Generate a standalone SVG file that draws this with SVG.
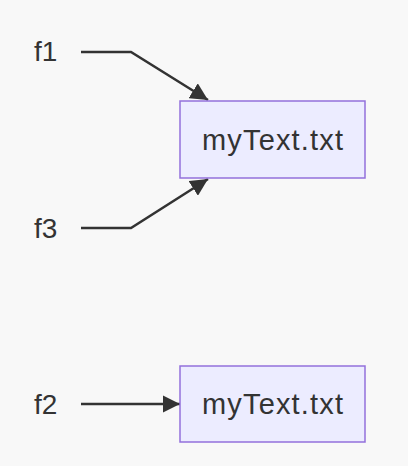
<svg xmlns="http://www.w3.org/2000/svg" width="408" height="466" viewBox="0 0 408 466">
<style>
.bg{fill:#f8f8f8}
.box{fill:#ECECFF;stroke:#9370DB;stroke-width:1.5}
.lbl{font-family:"Liberation Sans",Arial,sans-serif;font-size:28px;fill:#333}
.big{font-size:29px}
.edge{fill:none;stroke:#333;stroke-width:2.5}
</style>
<defs>
<marker id="ah" viewBox="0 0 10 10" refX="10" refY="5" markerWidth="7" markerHeight="7" markerUnits="strokeWidth" orient="auto">
<path d="M0,0 L10,5 L0,10 z" fill="#333"/>
</marker>
</defs>
<rect class="bg" x="0" y="0" width="408" height="466"/>
<g id="connectors">
<path class="edge" d="M81,52 L131,52 L208,100" marker-end="url(#ah)"/>
<path class="edge" d="M81,228 L131,228 L208,179" marker-end="url(#ah)"/>
<path class="edge" d="M81,404 L180,404" marker-end="url(#ah)"/>
</g>
<g id="f1"><text class="lbl" x="34" y="61">f1</text></g>
<g id="f3"><text class="lbl" x="34" y="238">f3</text></g>
<g id="f2"><text class="lbl" x="34" y="414">f2</text></g>
<g id="myText1">
<rect class="box" x="180" y="101" width="185" height="77"/>
<text class="lbl big" x="202" y="150" textLength="141" lengthAdjust="spacing">myText.txt</text>
</g>
<g id="myText2">
<rect class="box" x="180" y="366" width="185" height="76"/>
<text class="lbl big" x="202" y="414" textLength="141" lengthAdjust="spacing">myText.txt</text>
</g>
</svg>
